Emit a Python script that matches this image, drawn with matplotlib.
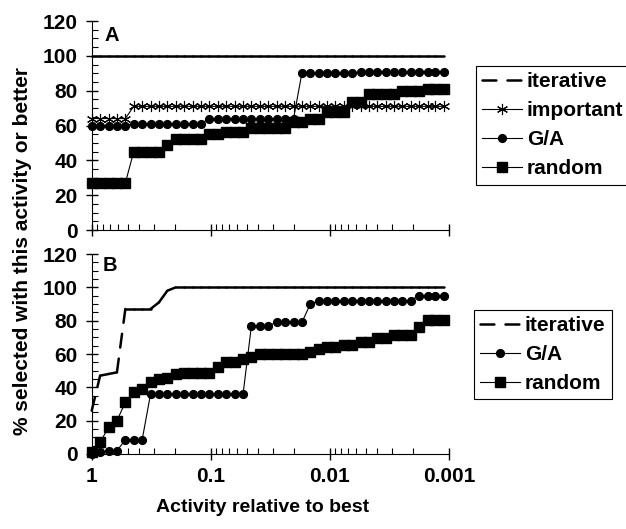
import matplotlib
matplotlib.use("Agg")
import matplotlib.pyplot as plt
from matplotlib.ticker import MultipleLocator, FuncFormatter, NullFormatter
from matplotlib.lines import Line2D

plt.rcParams['font.family'] = ['Liberation Sans', 'DejaVu Sans']
plt.rcParams['font.weight'] = 'bold'
plt.rcParams['lines.scale_dashes'] = False

# activity thresholds (relative to best)
activity = [1, 0.85, 0.7225, 0.6141, 0.5220, 0.4437, 0.3771, 0.3206, 0.2725, 0.2316,
            0.1969, 0.1673, 0.1422, 0.1209, 0.1028, 0.0874, 0.0743, 0.0631, 0.0536, 0.0456,
            0.0388, 0.0329, 0.0280, 0.0238, 0.0202, 0.0172, 0.0146, 0.0124, 0.0106, 0.0090,
            0.0076, 0.0065, 0.0055, 0.0047, 0.0040, 0.0034, 0.0029, 0.0025, 0.0021, 0.0018,
            0.0015, 0.0013, 0.0011]

# Panel A
a_iterative = [100, 100, 100, 100, 100, 100, 100, 100, 100, 100,
               100, 100, 100, 100, 100, 100, 100, 100, 100, 100,
               100, 100, 100, 100, 100, 100, 100, 100, 100, 100,
               100, 100, 100, 100, 100, 100, 100, 100, 100, 100,
               100, 100, 100]
a_important = [64, 64, 64, 64, 64, 71, 71, 71, 71, 71,
               71, 71, 71, 71, 71, 71, 71, 71, 71, 71,
               71, 71, 71, 71, 71, 71, 71, 71, 71, 71,
               71, 71, 71, 71, 71, 71, 71, 71, 71, 71,
               71, 71, 71]
a_ga = [60, 60, 60, 60, 60, 61, 61, 61, 61, 61,
        61, 61, 61, 61, 64, 64, 64, 64, 64, 64,
        64, 64, 64, 64, 64, 90, 90, 90, 90, 90,
        90, 90, 91, 91, 91, 91, 91, 91, 91, 91,
        91, 91, 91]
a_random = [27, 27, 27, 27, 27, 45, 45, 45, 45, 49,
            52, 52, 52, 52, 55, 55, 56.5, 56.5, 56.5, 58.5,
            58.5, 58.5, 58.5, 58.5, 62, 62, 64, 64, 68, 68,
            68, 73.5, 73.5, 78, 78, 78, 78, 80, 80, 80,
            81, 81, 81]

# Panel B
b_iterative = [26, 47, 48, 49, 87, 87, 87, 87, 91, 98,
               100, 100, 100, 100, 100, 100, 100, 100, 100, 100,
               100, 100, 100, 100, 100, 100, 100, 100, 100, 100,
               100, 100, 100, 100, 100, 100, 100, 100, 100, 100,
               100, 100, 100]
b_ga = [0, 1, 2, 2, 8.5, 8.5, 8.5, 36, 36, 36,
        36, 36, 36, 36, 36, 36, 36, 36, 36, 77,
        77, 77, 79, 79, 79, 79, 90, 92, 92, 92,
        92, 92, 92, 92, 92, 92, 92, 92, 92, 95,
        95, 95, 95]
b_random = [1, 7, 16, 20, 31, 37, 39, 43, 45, 45.5,
            48, 48.5, 48.5, 48.5, 48.5, 52, 55, 55, 57, 58.5,
            60, 60, 60, 60, 60, 60, 61, 63, 64.5, 64.5,
            65.5, 65.5, 67.5, 67.5, 69.5, 69.5, 71.5, 71.5, 71.5, 76.5,
            80.5, 80.5, 80.5]

dash = (0, (10, 8))
iter_style = dict(color='black', lw=1.8, linestyle=dash, dash_capstyle='round')
ga_style = dict(color='black', lw=0.8, marker='o', ms=5.6, clip_on=False)
rnd_style = dict(color='black', lw=0.8, marker='s', ms=6.6, clip_on=False)
imp_style = dict(color='black', lw=0.8, marker=(6, 2, 0), ms=8, mew=0.8, clip_on=False)


def draw_iterative(ax, x, y):
    # dash pattern restarts on every segment, like the original software
    for i in range(len(x) - 1):
        ax.plot(x[i:i + 2], y[i:i + 2], clip_on=False, **iter_style)


def style_axis(ax):
    ax.set_xscale('log')
    ax.set_xlim(1, 0.001)
    ax.set_ylim(0, 120)
    ax.yaxis.set_major_locator(MultipleLocator(20))
    ax.yaxis.set_minor_locator(MultipleLocator(5))
    ax.xaxis.set_major_formatter(FuncFormatter(lambda v, _: f"{v:g}"))
    ax.xaxis.set_minor_formatter(NullFormatter())
    ax.spines['top'].set_visible(False)
    ax.spines['right'].set_visible(False)
    ax.tick_params(which='major', direction='inout', length=8.5, width=1,
                   labelsize=15)
    ax.tick_params(which='minor', direction='in', length=4.5, width=0.8)
    ax.tick_params(axis='x', which='major', pad=5)
    ax.tick_params(axis='y', which='major', pad=6)
    for t in ax.get_xticklabels() + ax.get_yticklabels():
        t.set_fontweight('bold')


fig = plt.figure(figsize=(6.26, 5.29), dpi=100)
axA = fig.add_axes([0.1465, 0.5652, 0.5708, 0.3951])
axB = fig.add_axes([0.1465, 0.1418, 0.5708, 0.3780])

legend_kw = dict(loc='upper left', bbox_transform=fig.transFigure, borderaxespad=0,
                 fontsize=15, frameon=True, fancybox=False, framealpha=1,
                 edgecolor='black', handlelength=1.9, handletextpad=0.25,
                 labelspacing=0.48, borderpad=0.3)

#Chart A
draw_iterative(axA, activity, a_iterative)
axA.plot(activity, a_important, **imp_style)
axA.plot(activity, a_ga, **ga_style)
axA.plot(activity, a_random, **rnd_style)
style_axis(axA)
axA.tick_params(labelbottom=False)
axA.text(0.055, 0.933, 'A', transform=axA.transAxes, ha='center', va='center',
         fontsize=14.5, fontweight='bold')
handles = [Line2D([], [], **iter_style),
           Line2D([], [], **imp_style),
           Line2D([], [], **ga_style),
           Line2D([], [], **rnd_style)]
legA = axA.legend(handles, ['iterative', 'important', 'G/A', 'random'],
                  bbox_to_anchor=(0.760, 0.875), **legend_kw)
legA.get_frame().set_linewidth(0.8)

#Chart B
draw_iterative(axB, activity, b_iterative)
axB.plot(activity, b_ga, **ga_style)
axB.plot(activity, b_random, **rnd_style)
style_axis(axB)
axB.text(0.05, 0.945, 'B', transform=axB.transAxes, ha='center', va='center',
         fontsize=14.5, fontweight='bold')
handles = [Line2D([], [], **iter_style),
           Line2D([], [], **ga_style),
           Line2D([], [], **rnd_style)]
legB = axB.legend(handles, ['iterative', 'G/A', 'random'],
                  bbox_to_anchor=(0.757, 0.414), **legend_kw)
legB.get_frame().set_linewidth(0.8)

fig.text(0.036, 0.525, '% selected with this activity or better', rotation=90,
         ha='center', va='center', fontsize=15, fontweight='bold')
fig.text(0.42, 0.04, 'Activity relative to best', ha='center', va='center',
         fontsize=14, fontweight='bold')

plt.savefig('out.png', dpi=100)
